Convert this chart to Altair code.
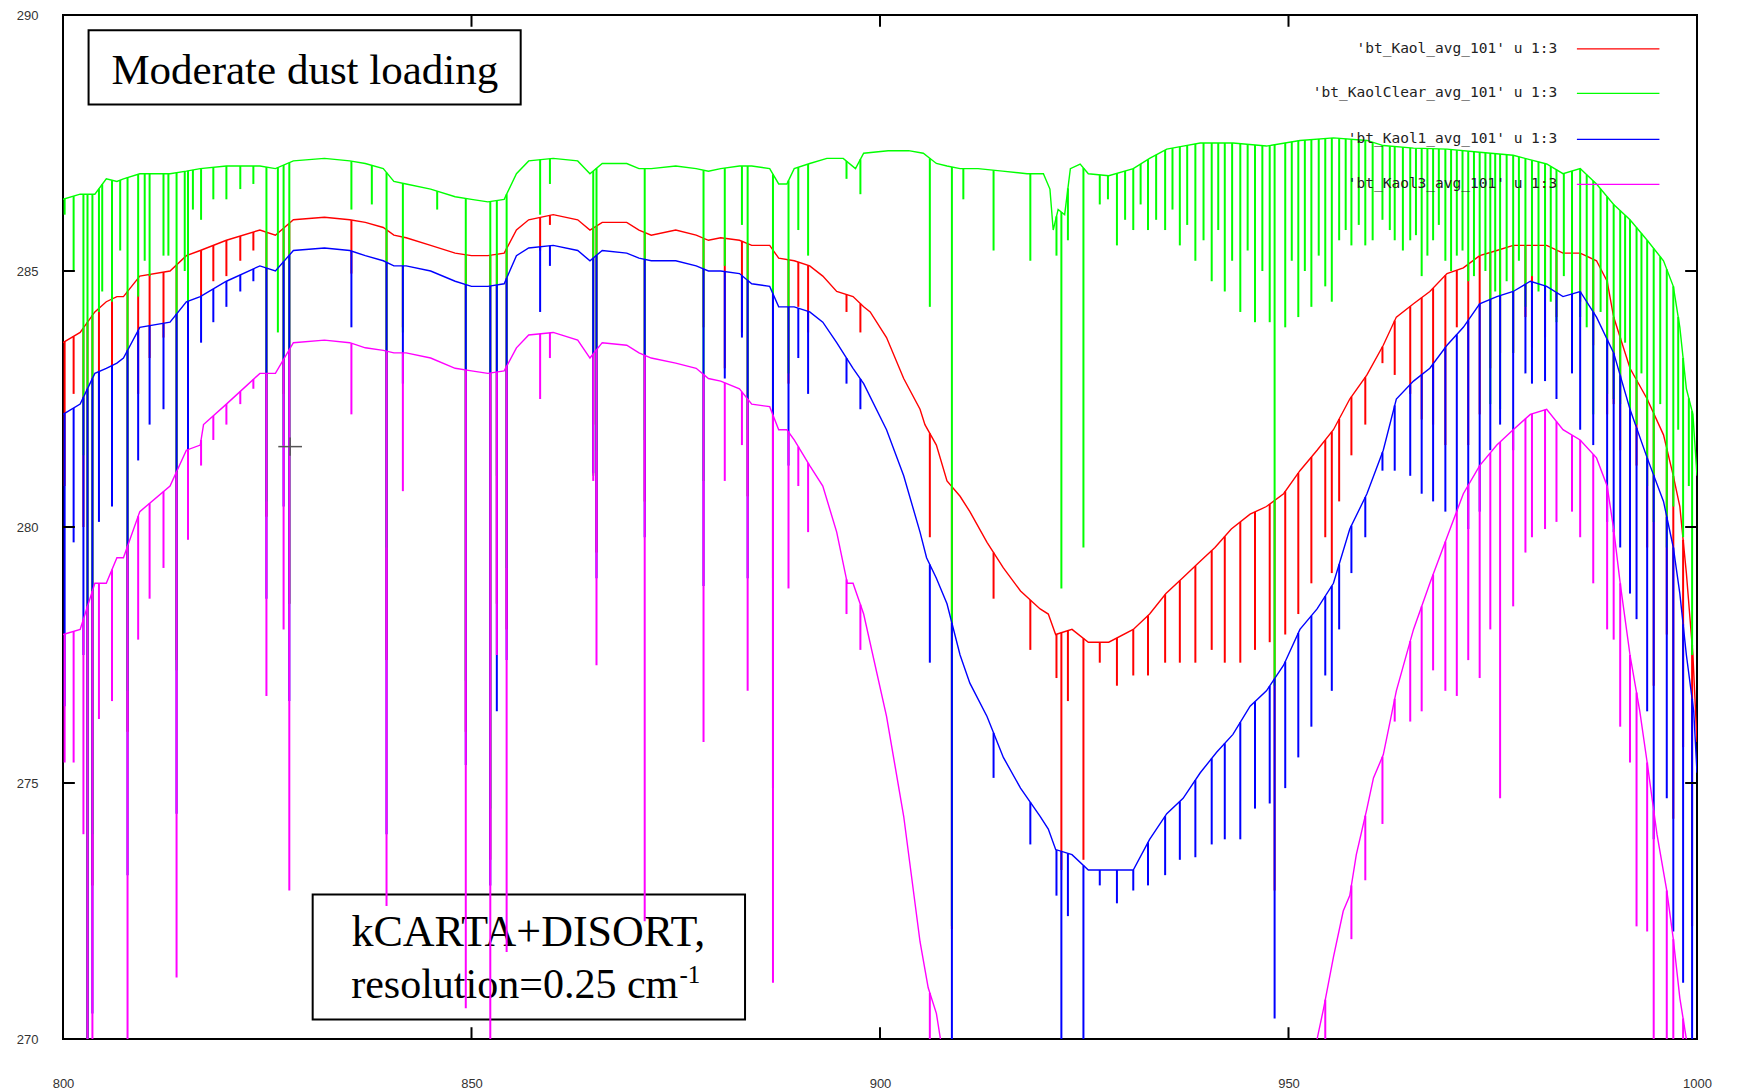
import altair as alt
import numpy as np
import pandas as pd

# ---------------- data ----------------
# continuum (envelope) points: (wavenumber cm-1, brightness temperature K)
red_env = [(800.0, 283.6), (802.1, 283.8), (803.9, 284.2), (805.3, 284.4), (806.6, 284.5), (807.4, 284.5),
           (809.4, 284.9), (813.1, 285.0), (815.1, 285.3), (816.8, 285.4), (820.0, 285.6), (824.1, 285.8),
           (826.0, 285.7), (828.2, 286.0), (832.0, 286.05), (835.1, 286.0), (837.0, 285.95), (839.2, 285.85),
           (840.5, 285.7), (842.0, 285.65), (845.0, 285.5), (848.0, 285.35), (850.0, 285.3), (852.0, 285.3),
           (854.0, 285.35), (855.5, 285.8), (857.0, 286.0), (860.0, 286.1), (863.0, 286.0), (864.5, 285.8),
           (866.0, 285.95), (869.0, 285.95), (870.5, 285.8), (872.0, 285.7), (875.0, 285.8), (877.5, 285.7),
           (879.0, 285.6), (880.5, 285.65), (882.8, 285.6), (884.3, 285.5), (886.5, 285.5), (887.6, 285.25),
           (889.5, 285.2), (891.4, 285.1), (893.0, 284.9), (894.7, 284.6), (896.7, 284.5), (898.0, 284.3),
           (898.8, 284.2), (900.8, 283.7), (902.9, 282.9), (904.9, 282.3), (905.5, 282.0), (906.9, 281.6),
           (908.2, 280.9), (909.8, 280.6), (911.0, 280.3), (913.1, 279.7), (915.1, 279.2), (917.2, 278.75),
           (919.6, 278.4), (920.6, 278.3), (921.5, 277.9), (923.5, 278.0), (925.5, 277.75), (928.0, 277.75),
           (931.0, 278.0), (933.0, 278.3), (935.0, 278.7), (937.0, 279.0), (939.0, 279.3), (941.0, 279.6),
           (943.0, 279.96), (945.3, 280.25), (947.3, 280.4), (949.4, 280.65), (951.4, 281.1), (953.5, 281.5),
           (955.5, 281.9), (957.5, 282.5), (959.6, 282.97), (961.6, 283.55), (963.2, 284.1), (965.3, 284.36),
           (967.3, 284.6), (969.4, 284.95), (971.4, 285.06), (973.4, 285.3), (975.5, 285.4), (977.5, 285.5),
           (979.6, 285.5), (981.6, 285.5), (983.6, 285.35), (985.7, 285.35), (987.7, 285.2), (989.0, 284.8),
           (989.8, 284.1), (991.8, 283.1), (993.9, 282.5), (995.9, 281.8), (997.1, 281.0), (997.9, 280.4),
           (998.7, 279.1), (999.5, 277.5), (1000.0, 275.8)]

green_env = [(800.0, 286.4), (802.1, 286.5), (803.9, 286.5), (805.3, 286.8), (806.6, 286.75), (807.4, 286.8),
             (809.4, 286.9), (813.1, 286.9), (815.1, 286.95), (816.8, 287.0), (820.0, 287.05), (824.1, 287.05),
             (826.0, 287.0), (828.2, 287.15), (832.0, 287.2), (835.1, 287.15), (837.0, 287.1), (839.2, 287.0),
             (840.5, 286.75), (842.0, 286.7), (845.0, 286.6), (848.0, 286.45), (850.0, 286.4), (852.0, 286.35),
             (854.0, 286.4), (855.5, 286.9), (857.0, 287.15), (860.0, 287.2), (863.0, 287.15), (864.5, 286.9),
             (866.0, 287.1), (869.0, 287.1), (870.5, 287.0), (872.0, 287.0), (875.0, 287.05), (877.5, 287.0),
             (879.0, 286.95), (880.5, 287.0), (882.8, 287.05), (884.3, 287.05), (886.5, 287.0), (887.6, 286.7),
             (888.6, 286.7), (889.5, 287.0), (891.4, 287.1), (893.5, 287.2), (895.5, 287.2), (897.0, 287.0),
             (898.0, 287.3), (901.0, 287.35), (903.5, 287.35), (905.3, 287.3), (906.9, 287.1), (908.2, 287.05),
             (909.8, 287.0), (912.0, 287.0), (915.0, 286.95), (918.0, 286.9), (920.0, 286.9), (920.8, 286.6),
             (921.2, 285.8), (921.8, 286.2), (922.6, 286.1), (923.3, 287.0), (924.5, 287.09), (925.5, 286.9),
             (928.0, 286.86), (931.0, 287.0), (933.0, 287.2), (935.1, 287.38), (937.1, 287.44), (939.2, 287.5),
             (943.2, 287.5), (947.3, 287.44), (951.4, 287.55), (955.5, 287.6), (959.6, 287.55), (961.6, 287.45),
             (965.3, 287.4), (969.4, 287.38), (973.4, 287.32), (977.5, 287.26), (981.6, 287.09), (983.6, 286.9),
             (985.7, 287.0), (987.7, 286.7), (989.8, 286.3), (991.8, 286.0), (993.9, 285.6), (995.9, 285.2),
             (997.1, 284.7), (997.9, 283.9), (998.7, 282.7), (999.5, 282.2), (1000.0, 281.0)]

blue_env = [(800.0, 282.2), (802.1, 282.4), (803.9, 283.0), (805.3, 283.1), (806.6, 283.2), (807.4, 283.3),
            (809.4, 283.9), (813.1, 284.0), (815.1, 284.4), (816.8, 284.5), (820.0, 284.8), (824.1, 285.1),
            (826.0, 285.0), (828.2, 285.4), (832.0, 285.45), (835.1, 285.4), (837.0, 285.3), (839.2, 285.2),
            (840.5, 285.1), (842.0, 285.1), (845.0, 285.0), (848.0, 284.8), (850.0, 284.7), (852.0, 284.7),
            (854.0, 284.75), (855.5, 285.3), (857.0, 285.45), (860.0, 285.5), (863.0, 285.4), (864.5, 285.2),
            (866.0, 285.4), (869.0, 285.35), (870.5, 285.25), (872.0, 285.2), (875.0, 285.2), (877.5, 285.1),
            (879.0, 285.0), (880.5, 285.0), (882.8, 284.95), (884.3, 284.75), (886.5, 284.7), (887.6, 284.3),
            (889.5, 284.3), (891.4, 284.2), (893.0, 284.0), (894.7, 283.6), (896.7, 283.1), (898.0, 282.8),
            (900.8, 281.9), (902.9, 281.0), (904.9, 279.9), (905.7, 279.4), (906.9, 279.0), (908.2, 278.5),
            (909.8, 277.5), (911.0, 276.95), (913.1, 276.3), (915.1, 275.5), (917.2, 274.9), (919.6, 274.35),
            (920.6, 274.1), (921.5, 273.7), (923.5, 273.6), (925.5, 273.3), (928.0, 273.3), (931.0, 273.3),
            (933.0, 273.9), (935.1, 274.4), (937.1, 274.7), (939.2, 275.2), (941.2, 275.6), (943.2, 275.95),
            (945.3, 276.5), (947.3, 276.8), (949.4, 277.3), (951.4, 278.0), (953.5, 278.4), (955.5, 278.9),
            (957.5, 279.96), (959.6, 280.65), (961.6, 281.5), (963.2, 282.5), (965.3, 282.85), (967.3, 283.1),
            (969.4, 283.55), (971.4, 283.9), (973.4, 284.36), (975.5, 284.5), (977.5, 284.6), (979.6, 284.8),
            (981.6, 284.7), (983.6, 284.5), (985.7, 284.6), (987.7, 284.1), (989.8, 283.4), (991.8, 282.3),
            (993.9, 281.35), (995.9, 280.5), (997.1, 279.6), (997.9, 278.7), (998.7, 277.5), (999.6, 276.4),
            (1000.0, 275.2)]

magenta_env = [(800.0, 277.9), (802.1, 278.0), (803.9, 278.9), (805.3, 278.9), (806.6, 279.4), (807.4, 279.4),
               (809.4, 280.3), (813.1, 280.8), (815.1, 281.5), (816.8, 281.6), (817.2, 282.0), (820.0, 282.4),
               (824.1, 283.0), (826.0, 283.0), (828.2, 283.6), (832.0, 283.65), (835.1, 283.6), (837.0, 283.5),
               (839.2, 283.45), (840.5, 283.4), (842.0, 283.4), (845.0, 283.3), (848.0, 283.1), (850.0, 283.05),
               (852.0, 283.0), (854.0, 283.05), (855.5, 283.5), (857.0, 283.75), (860.0, 283.8), (863.0, 283.65),
               (864.5, 283.3), (866.0, 283.6), (869.0, 283.55), (870.5, 283.4), (872.0, 283.3), (875.0, 283.2),
               (877.5, 283.1), (879.0, 282.9), (880.5, 282.85), (882.8, 282.7), (884.3, 282.4), (886.5, 282.35),
               (887.6, 281.9), (888.6, 281.9), (889.5, 281.7), (891.4, 281.2), (893.0, 280.8), (894.7, 279.9),
               (896.0, 278.9), (896.7, 278.9), (898.0, 278.3), (900.8, 276.3), (902.9, 274.35), (904.9, 271.9),
               (905.9, 271.0), (906.9, 270.5), (907.4, 270.0), (908.5, 268.5), (953.0, 268.5), (953.5, 270.0),
               (954.3, 270.6), (955.5, 271.6), (956.7, 272.5), (957.5, 272.8), (958.3, 273.6), (959.6, 274.5),
               (960.4, 275.1), (961.6, 275.55), (963.2, 276.8), (965.3, 278.0), (967.3, 278.9), (969.4, 279.8),
               (971.4, 280.65), (973.4, 281.2), (975.5, 281.6), (977.5, 281.9), (979.6, 282.2), (981.6, 282.3),
               (983.6, 281.9), (985.7, 281.7), (987.7, 281.35), (989.0, 280.8), (989.8, 279.96), (990.6, 278.9),
               (991.8, 277.5), (993.0, 276.4), (993.9, 275.4), (995.1, 274.0), (996.3, 272.9), (997.1, 271.95),
               (997.9, 270.8), (998.7, 270.0), (999.2, 268.5), (1000.0, 268.5)]

# absorption line positions (cm-1) and the minimum each series reaches there (K)
line_wn = [800.2, 801.3, 802.5, 803.0, 803.6, 804.4, 806.0, 807.9, 809.2, 810.6,
           812.3, 813.9, 815.3, 816.9, 818.4, 820.0, 821.7, 823.3, 824.9, 827.0,
           827.7, 835.3, 839.6, 841.6, 849.3, 852.3, 853.1, 854.3, 858.4, 859.6,
           864.9, 865.3, 871.2, 878.4, 881.0, 883.1, 883.8, 886.9, 888.8, 890.0,
           891.2, 895.9, 897.6, 906.1, 908.8, 910.2, 913.9, 918.4, 921.6, 922.2,
           923.0, 924.9, 926.9, 929.0, 931.0, 932.8, 934.9, 936.7, 938.6, 940.6,
           942.2, 944.1, 945.9, 947.7, 948.3, 949.6, 951.2, 952.8, 954.5, 955.3,
           956.2, 957.7, 959.4, 961.5, 963.0, 964.9, 966.3, 967.7, 969.2, 970.6,
           972.0, 973.4, 974.7, 975.9, 977.5, 979.0, 979.8, 981.4, 982.8, 984.7,
           985.7, 987.3, 989.0, 989.8, 990.6, 991.8, 992.6, 993.9, 994.7, 996.3,
           997.1, 998.3, 999.4]

red_dip = [280.8, 282.6, 280.0, 268.0, 273.0, 281.7, 281.8, 276.0, 282.6, 283.3,
           283.7, 277.4, 282.6, 284.5, 284.8, 284.9, 285.2, 285.4, 280.2, 282.6,
           278.5, 284.95, 277.4, 283.9, 276.0, 273.5, 278.5, 278.0, 285.4, 285.9,
           282.0, 279.5, 280.5, 283.9, 283.1, 283.8, 280.6, 279.0, 282.8, 284.3,
           283.8, 284.2, 283.8, 279.8, 272.15, None, 278.6, 277.6, 277.05, 273.3,
           276.6, 273.5, 277.35, 276.9, 277.1, 277.1, 277.35, 277.35, 277.35, 277.6,
           277.35, 277.35, 277.6, 277.75, 272.9, 277.9, 278.3, 278.9, 279.8, 279.1,
           280.5, 281.4, 282.0, 283.2, 282.97, 282.6, 282.1, 282.0, 281.6, 283.9,
           281.6, 282.2, 283.1, 283.4, 283.4, 284.1, 283.5, 283.7, 284.1, 283.4,
           284.4, 283.55, 282.2, 282.4, 281.5, 281.0, 281.2, 279.6, 276.9, 277.9,
           274.3, 275.7, 272.2]

green_dip = [286.1, 285.0, 281.4, 268.0, 274.0, 284.2, 284.4, 276.8, 284.5, 284.9,
             285.3, 277.2, 283.9, 286.0, 286.4, 286.4, 286.6, 286.7, 280.5, 281.6,
             278.5, 286.2, 279.6, 283.8, 277.0, 274.5, 281.0, 279.2, 286.1, 286.7,
             281.0, 281.5, 281.7, 280.9, 285.1, 285.9, 281.9, 277.2, 283.0, 285.8,
             285.3, 286.8, 286.5, 284.3, 272.2, 286.4, 285.4, 285.2, 285.3, 278.8,
             285.6, 279.6, 286.3, 285.5, 285.8, 285.8, 285.8, 285.5, 285.2, 284.8,
             284.6, 284.2, 284.0, 284.0, 276.9, 283.9, 284.1, 284.3, 284.7, 284.4,
             285.6, 285.5, 285.5, 286.0, 285.6, 285.6, 284.9, 285.6, 285.2, 285.3,
             284.8, 285.3, 282.4, 282.3, 283.4, 284.3, 284.9, 284.5, 284.0, 283.6,
             284.1, 282.2, 282.6, 282.5, 282.4, 281.5, 282.0, 280.8, 280.1, 279.6,
             280.4, 279.8, 277.5]

blue_dip = [276.5, 279.7, 277.5, 268.0, 270.5, 280.1, 280.4, 273.2, 281.3, 282.0,
            282.3, 274.4, 281.4, 283.6, 284.0, 284.3, 284.6, 284.8, 278.6, 280.4,
            276.6, 283.9, 274.0, 282.8, 275.35, 273.0, 276.4, 277.4, 284.2, 285.1,
            281.05, 279.0, 279.8, 278.85, 282.9, 283.7, 279.0, 274.9, 281.2, 283.3,
            282.6, 282.8, 282.3, 277.35, 268.0, None, 275.1, 273.8, 272.8, 268.0,
            272.4, 268.0, 273.0, 272.65, 272.9, 273.0, 273.2, 273.5, 273.55, 273.8,
            273.9, 273.9, 274.5, 274.6, 270.4, 274.9, 275.5, 276.1, 277.1, 276.8,
            278.0, 279.1, 279.8, 281.1, 281.1, 281.0, 280.65, 280.5, 280.3, 280.3,
            279.96, 280.3, 281.5, 282.0, 281.5, 283.0, 282.8, 282.85, 282.5, 283.0,
            281.9, 281.6, 280.1, 279.9, 279.6, 278.7, 278.2, 276.4, 273.9, 274.7,
            272.1, 271.1, 268.0]

magenta_dip = [275.4, 275.4, 274.0, 268.0, 268.0, 276.25, 276.6, 268.0, 277.8, 278.6,
               279.2, 271.2, 279.75, 281.2, 281.7, 282.0, 282.4, 282.7, 276.7, 278.0,
               272.9, 282.2, 272.6, 280.7, 270.6, 268.0, 277.5, 271.7, 282.5, 283.3,
               280.9, 277.3, 272.3, 275.8, 280.9, 281.6, 276.8, 271.1, 278.8, 280.8,
               279.9, 278.3, 277.6, 268.0, None, None, None, None, None, None,
               None, None, None, None, None, None, None, None, None, None,
               None, None, None, None, None, None, None, None, 268.0, None,
               None, 271.95, 273.1, 274.2, 276.2, 276.2, 276.4, 277.2, 276.8, 276.7,
               277.4, 277.05, 278.0, 274.7, 278.45, 279.5, 279.8, 279.96, 280.1, 280.3,
               279.8, 278.9, 278.0, 277.8, 276.1, 275.4, 272.2, 272.1, 268.0, 268.0,
               268.0, 268.0, 268.0]

# weaker lines that only show clearly on the clear-sky (green) spectrum
green_extra_wn = [804.8, 807.0, 810.0, 812.9, 814.9, 815.9, 826.3, 837.8, 845.8,
                  927.9, 930.0, 931.9, 933.8, 935.8, 937.6, 939.6, 941.4, 943.1, 945.0,
                  946.8, 950.4, 952.0, 953.7, 957.0, 958.6, 960.3,
                  962.4, 964.0, 965.6, 967.0, 968.4, 969.9, 971.3, 972.7, 974.1, 975.3,
                  976.7, 978.2, 980.6, 982.1, 983.7, 986.5, 988.2, 991.2, 993.2, 995.5,
                  997.7, 999.0]
green_extra_dip = [284.6, 285.4, 285.2, 285.3, 285.0, 286.2, 283.8, 286.3, 286.2,
                   286.4, 286.0, 286.3, 286.0, 286.2, 285.9, 285.6, 285.8, 285.2, 285.4,
                   285.0, 285.2, 285.0, 285.3, 285.8, 285.9, 285.6,
                   285.8, 285.4, 285.7, 285.3, 285.9, 285.0, 285.4, 284.9, 285.0, 284.6,
                   284.8, 285.2, 284.6, 284.4, 284.9, 283.9, 284.2, 283.6, 283.0, 282.4,
                   281.9, 280.8]

series_names = ["'bt_Kaol_avg_101' u 1:3", "'bt_KaolClear_avg_101' u 1:3",
                "'bt_Kaol1_avg_101' u 1:3", "'bt_Kaol3_avg_101' u 1:3"]
series_colors = ["#ff0000", "#00ff00", "#0000ff", "#ff00ff"]

x_ticks = [800, 850, 900, 950, 1000]
y_ticks = [270, 275, 280, 285, 290]

# ---------------- chart ----------------
xs = alt.Scale(domain=[800, 1000], nice=False, zero=False)
ys = alt.Scale(domain=[270, 290], nice=False, zero=False)
X = alt.X("wn:Q", scale=xs, axis=alt.Axis(values=x_ticks, format="d", title=None, grid=False, domain=False,
                                          ticks=False, tickSize=0, labelPadding=38, labelFontSize=13,
                                          labelFont="Liberation Sans", labelColor="#333333",
                                          labelFlush=False, labelOverlap=False))
Y = alt.Y("bt:Q", scale=ys, axis=alt.Axis(values=y_ticks, format="d", title=None, grid=False, domain=False,
                                          ticks=False, tickSize=0, labelPadding=25, labelFontSize=13,
                                          labelFont="Liberation Sans", labelColor="#333333",
                                          labelFlush=False, labelOverlap=False))
Xs = alt.X("wn:Q", scale=xs)
Ys = alt.Y("bt:Q", scale=ys)

layers = []

# annotation boxes (drawn first, curves pass over them)
boxes = pd.DataFrame({"wn": [803.13, 830.56], "wn2": [856.02, 883.48],
                      "bt": [289.70, 272.82], "bt2": [288.25, 270.38]})
layers.append(alt.Chart(boxes).mark_rect(fill="white", fillOpacity=0, stroke="black",
                                         strokeWidth=2).encode(
    x=X, x2="wn2:Q", y=Y, y2="bt2:Q"))

notes = pd.DataFrame({"wn": [829.6, 856.95], "bt": [288.66, 271.81],
                      "label": ["Moderate dust loading", "kCARTA+DISORT,"],
                      "size": [43, 44]})
layers.append(alt.Chart(notes).mark_text(font="Liberation Serif", color="black",
                                         align="center", baseline="alphabetic").encode(
    x=Xs, y=Ys, text="label:N", size=alt.Size("size:Q", scale=None, legend=None)))
res = pd.DataFrame({"wn": [875.3], "bt": [270.80], "label": ["resolution=0.25 cm"]})
layers.append(alt.Chart(res).mark_text(font="Liberation Serif", fontSize=42, color="black",
                                       align="right", baseline="alphabetic").encode(
    x=Xs, y=Ys, text="label:N"))
sup = pd.DataFrame({"wn": [875.45], "bt": [271.10], "label": ["-1"]})
layers.append(alt.Chart(sup).mark_text(font="Liberation Serif", fontSize=25, color="black",
                                       align="left", baseline="alphabetic").encode(
    x=Xs, y=Ys, text="label:N"))

# spectra, in gnuplot's plotting order (red, green, blue, magenta)
specs = [
    (red_env, list(zip(line_wn, red_dip)), series_colors[0]),
    (green_env, list(zip(line_wn, green_dip)) + list(zip(green_extra_wn, green_extra_dip)), series_colors[1]),
    (blue_env, list(zip(line_wn, blue_dip)), series_colors[2]),
    (magenta_env, list(zip(line_wn, magenta_dip)), series_colors[3]),
]
for env, pairs, color in specs:
    env_df = pd.DataFrame(env, columns=["wn", "bt"])
    rows = [(w, d) for w, d in pairs if d is not None]
    dip_df = pd.DataFrame(rows, columns=["wn", "bt"])
    dip_df["top"] = np.interp(dip_df["wn"].to_numpy(), env_df["wn"].to_numpy(), env_df["bt"].to_numpy())
    layers.append(alt.Chart(env_df).mark_line(color=color, strokeWidth=1.4, clip=True).encode(
        x=Xs, y=Ys, order="wn:Q"))
    layers.append(alt.Chart(dip_df).mark_rule(color=color, strokeWidth=2.0, clip=True).encode(
        x=Xs, y=Ys, y2="top:Q"))

# inward tick marks of the frame
tick_len_y = 0.23
tick_len_x = 1.45
inner = [850, 900, 950]
inner_y = [275, 280, 285]
xt = pd.DataFrame({"wn": inner * 2, "bt": [270.0] * 3 + [290.0] * 3,
                   "bt2": [270.0 + tick_len_y] * 3 + [290.0 - tick_len_y] * 3})
layers.append(alt.Chart(xt).mark_rule(color="black", strokeWidth=2).encode(x=Xs, y=Ys, y2="bt2:Q"))
yt = pd.DataFrame({"wn": [800.0] * 3 + [1000.0] * 3, "wn2": [800.0 + tick_len_x] * 3 + [1000.0 - tick_len_x] * 3,
                   "bt": inner_y * 2})
layers.append(alt.Chart(yt).mark_rule(color="black", strokeWidth=2).encode(x=Xs, x2="wn2:Q", y=Ys))

# key (gnuplot style: text to the left of the line sample)
key_bt = [289.34, 288.47, 287.57, 286.69]
key_df = pd.DataFrame({"wn": [982.9] * 4, "bt": key_bt, "label": series_names})
layers.append(alt.Chart(key_df).mark_text(font="DejaVu Sans Mono", fontSize=14.5, color="#222222",
                                          align="right", baseline="middle").encode(
    x=Xs, y=Ys, text="label:N"))
for bt, color in zip(key_bt, series_colors):
    kd = pd.DataFrame({"wn": [985.3], "wn2": [995.4], "bt": [bt]})
    layers.append(alt.Chart(kd).mark_rule(color=color, strokeWidth=1.3).encode(x=Xs, x2="wn2:Q", y=Ys))

# mouse cross-hair left on the original screenshot
cross_h = pd.DataFrame({"wn": [826.35], "wn2": [829.25], "bt": [281.57]})
cross_v = pd.DataFrame({"wn": [827.8], "bt": [281.39], "bt2": [281.75]})
layers.append(alt.Chart(cross_h).mark_rule(color="#555555", strokeWidth=1.5).encode(x=Xs, x2="wn2:Q", y=Ys))
layers.append(alt.Chart(cross_v).mark_rule(color="#555555", strokeWidth=1.5).encode(x=Xs, y=Ys, y2="bt2:Q"))

chart = alt.layer(*layers).properties(
    width=1634, height=1024,
    autosize=alt.AutoSizeParams(type="none"),
    padding={"left": 63, "top": 15, "right": 40, "bottom": 52},
    background="white",
).configure_view(stroke="black", strokeWidth=2)

chart.save("out.html", embed_options={"renderer": "svg", "actions": False})
